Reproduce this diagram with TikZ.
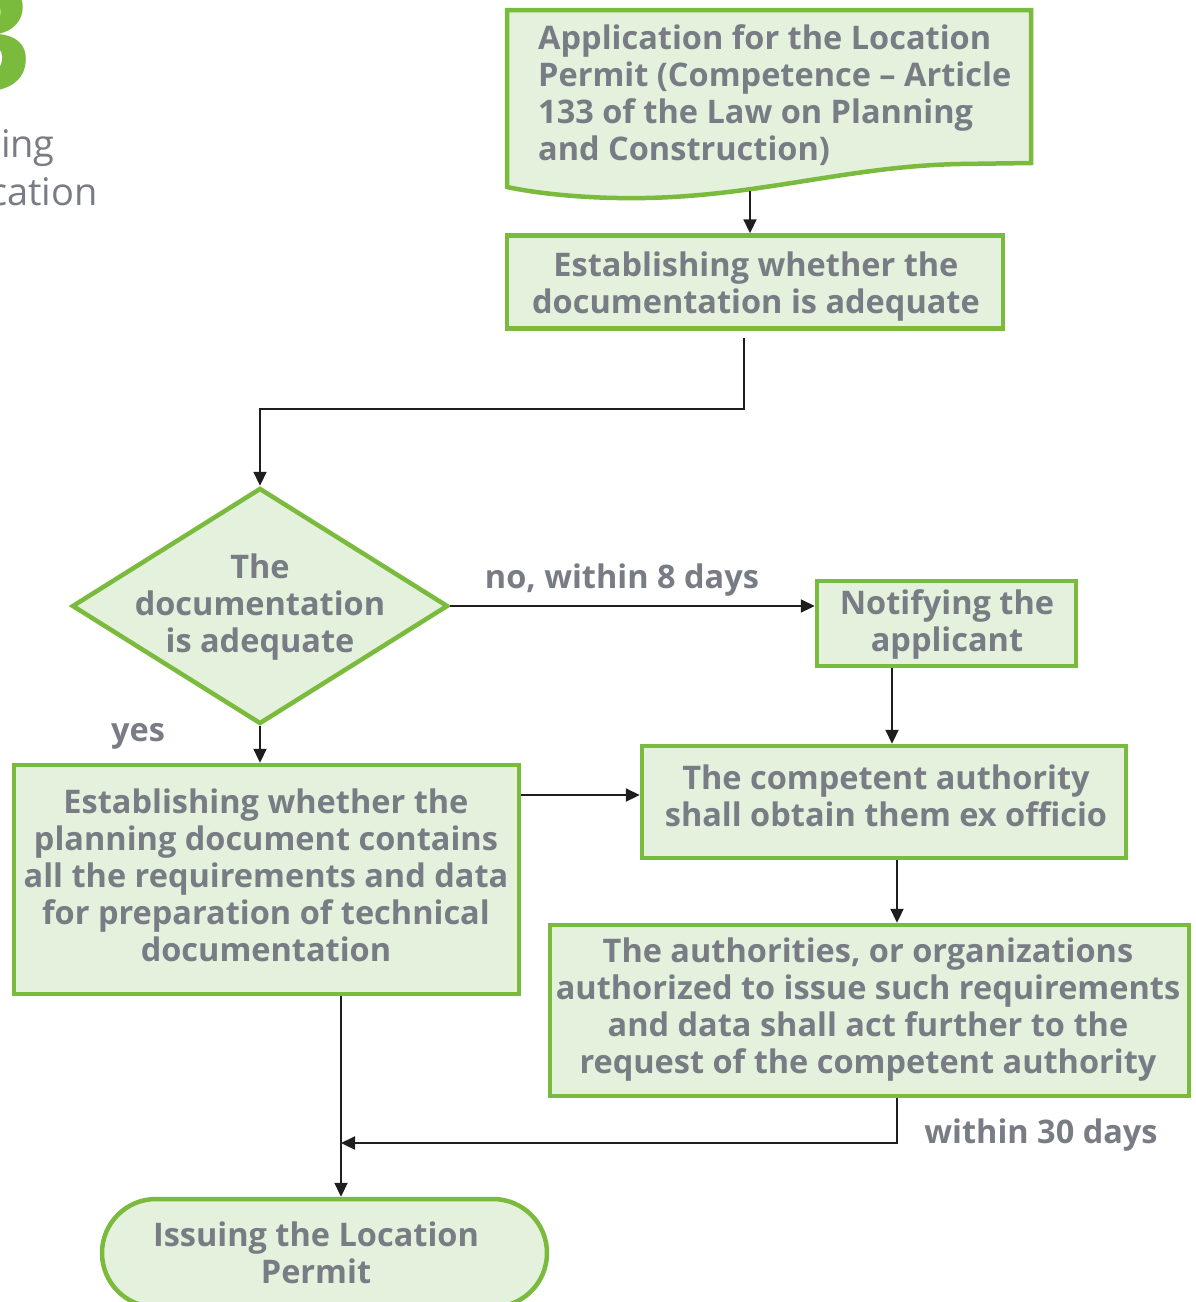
\documentclass[tikz,border=0pt]{standalone}
\usepackage{fontspec}
\setmainfont{Open Sans}
\usetikzlibrary{arrows.meta,shapes.geometric}
\definecolor{leaf}{RGB}{122,186,60}
\definecolor{mint}{RGB}{228,241,220}
\definecolor{slate}{RGB}{120,124,132}
\definecolor{ink}{RGB}{30,30,30}
\begin{document}
\begin{tikzpicture}[x=1pt,y=-1pt,
  txt/.style={text=slate, font=\bfseries\fontsize{32.5}{37}\selectfont, align=center, inner sep=0pt},
  box/.style={draw=leaf, fill=mint, line width=4.5pt, rectangle, inner sep=0pt},
  decision/.style={draw=leaf, fill=mint, line width=4.5pt, diamond, inner sep=0pt},
  terminal/.style={box, rounded corners=54pt},
  arr/.style={draw=ink, line width=2.2pt, -{Triangle[length=14pt,width=13pt]}},
  lbl/.style={txt}
]
\useasboundingbox (0,0) rectangle (1195,1302);
\clip (0,0) rectangle (1195,1302);

% chapter number and heading fragment
\node[anchor=base east, inner sep=0pt, text=leaf, font=\bfseries\fontsize{150}{150}\selectfont] (chapno) at (32,90) {3};
\node[anchor=base east, inner sep=0pt, text=slate, font=\fontsize{38}{48}\selectfont] (headA) at (55,157) {ing};
\node[anchor=base east, inner sep=0pt, text=slate, font=\fontsize{38}{48}\selectfont] (headB) at (98,205) {cation};

% application (document shape)
\path[draw=leaf, fill=mint, line width=4.5pt]
  (507,10) -- (1031,10) -- (1031,163) -- (960,164)
  .. controls (850,166) and (760,196) .. (645,198)
  .. controls (590,199) and (540,194) .. (507,187) -- cycle;
\node[txt, anchor=west, align=left] (app) at (538,95)
  {Application for the Location\\Permit (Competence -- Article\\133 of the Law on Planning\\and Construction)};
\coordinate (appbot) at (750,191);

% flow shapes
\node[box, minimum width=496pt, minimum height=93pt] (est1) at (755,282) {};
\node[decision, minimum width=376pt, minimum height=236pt] (dia) at (260,606) {};
\node[box, minimum width=259pt, minimum height=85pt] (notify) at (946.5,623.5) {};
\node[box, minimum width=484pt, minimum height=112pt] (auth) at (884,802) {};
\node[box, minimum width=639pt, minimum height=171pt] (orgs) at (869.5,1010.5) {};
\node[box, minimum width=505pt, minimum height=229pt] (plan) at (266.5,879.5) {};
\node[terminal, minimum width=445pt, minimum height=108pt] (term) at (324.5,1253) {};

% texts of the shapes
\node[txt] (est1text) at (756,287) {Establishing whether the\\documentation is adequate};
\node[txt] (diatext) at (260,607) {The\\documentation\\is adequate};
\node[txt] (notifytext) at (947,624.5) {Notifying the\\applicant};
\node[txt] (authtext) at (886,795.5) {The competent authority\\shall obtain them ex officio};
\node[txt] (orgstext) at (868,1009.5)
  {The authorities, or organizations\\authorized to issue such requirements\\and data shall act further to the\\request of the competent authority};
\node[txt] (plantext) at (266,875.5)
  {Establishing whether the\\planning document contains\\all the requirements and data\\for preparation of technical\\documentation};
\node[txt] (termtext) at (316,1253) {Issuing the Location\\Permit};

% labels
\node[lbl] (nolbl) at (622,580) {no, within 8 days};
\node[lbl] (yeslbl) at (138,736) {yes};
\node[lbl] (d30lbl) at (1041,1135) {within 30 days};

% helper coordinates for connector columns and rows
\coordinate (colA) at (892,0);
\coordinate (colB) at (897,0);
\coordinate (colC) at (341,0);
\coordinate (rowA) at (0,795);
\coordinate (join) at (341,1143);

% connectors
\draw[arr] (appbot) -- (appbot |- est1.north);
\draw[arr] ([xshift=-11pt,yshift=-7pt]est1.south) -- ++(0,71) -| (dia.north);
\draw[arr] (dia.east) -- (dia.east -| notify.west);
\draw[arr] (dia.south) -- (dia.south |- plan.north);
\draw[arr] (colA |- notify.south) -- (colA |- auth.north);
\draw[arr] (colB |- auth.south) -- (colB |- orgs.north);
\draw[arr] (plan.east |- rowA) -- (auth.west |- rowA);
\draw[arr] (colB |- orgs.south) |- (join);
\draw[arr] (colC |- plan.south) -- (colC |- term.north);
\end{tikzpicture}
\end{document}
